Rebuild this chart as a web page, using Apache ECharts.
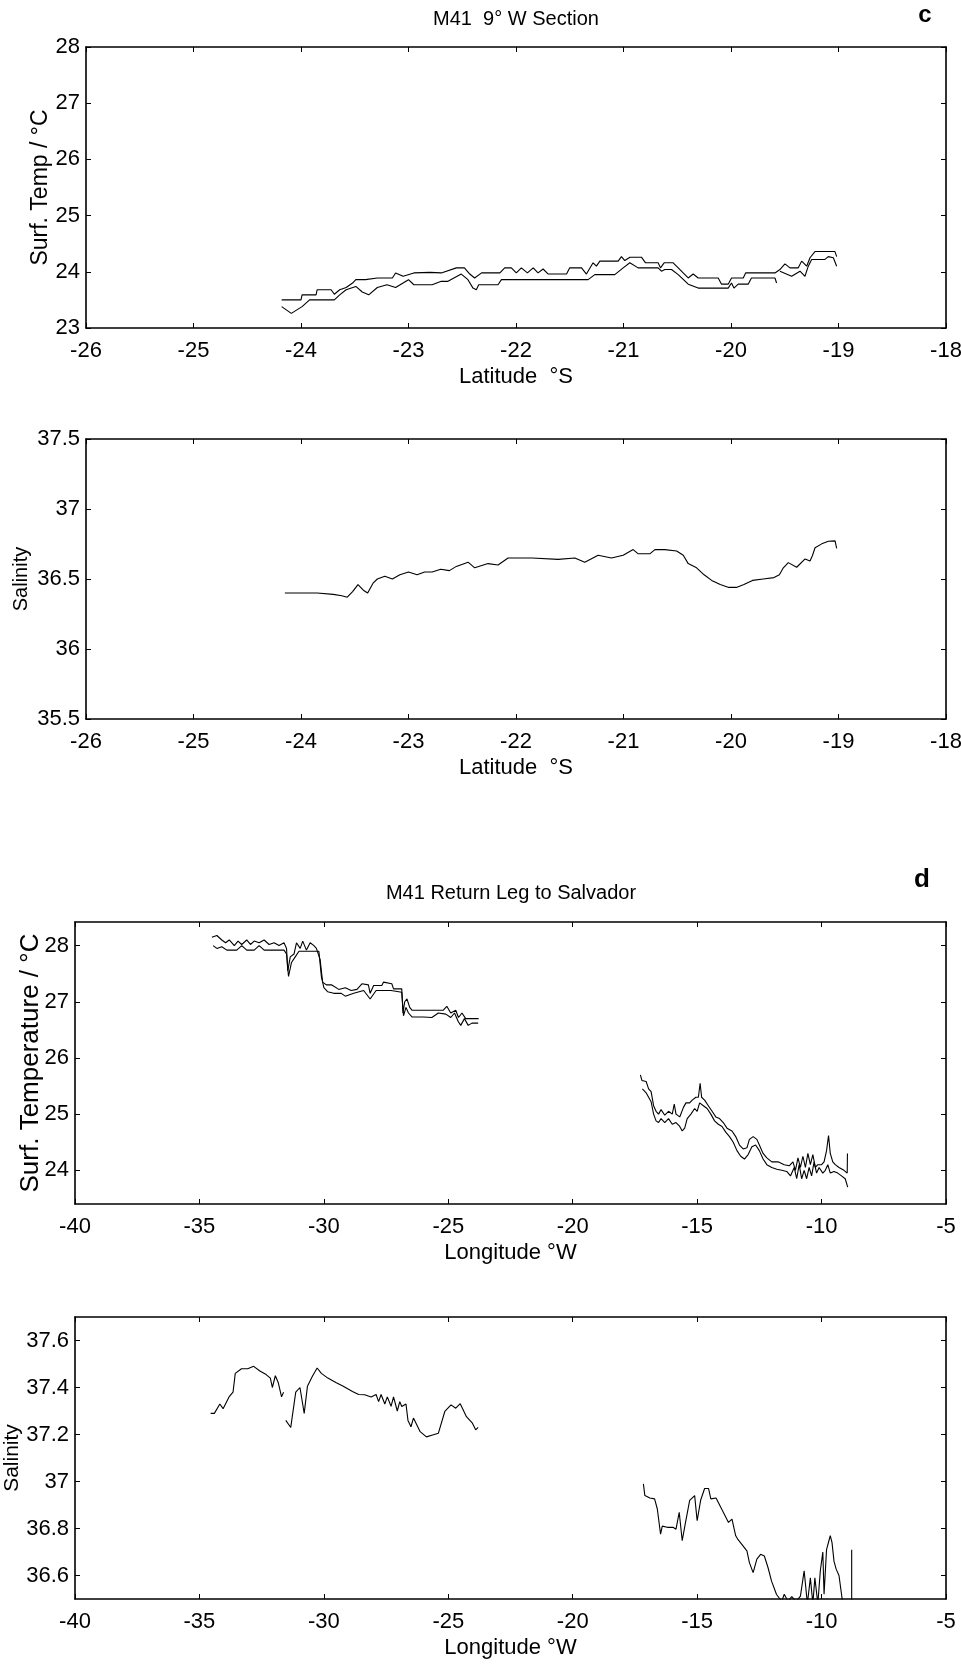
<!DOCTYPE html>
<html><head><meta charset="utf-8">
<script src="https://cdn.jsdelivr.net/npm/echarts@6/dist/echarts.min.js"></script>
<style>html,body{margin:0;padding:0;background:#fff}#chart{width:961px;height:1667px}</style>
</head><body><div id="chart"></div>
<script>
// ---------- Panel c: 9° W section (x = latitude °S) ----------
const tempC_upper = [[-24.18,23.50],[-24.00,23.50],[-23.99,23.59],[-23.86,23.59],[-23.85,23.68],[-23.72,23.68],[-23.69,23.60],[-23.64,23.68],[-23.58,23.72],[-23.52,23.80],[-23.49,23.86],[-23.40,23.86],[-23.29,23.89],[-23.15,23.89],[-23.12,23.98],[-23.05,23.92],[-22.95,23.98],[-22.80,23.99],[-22.695,23.98],[-22.555,24.07],[-22.48,24.07],[-22.43,23.96],[-22.385,23.89],[-22.32,23.98],[-22.15,23.98],[-22.105,24.07],[-22.043,24.07],[-21.997,23.98],[-21.95,24.07],[-21.894,23.98],[-21.84,24.07],[-21.795,23.98],[-21.748,24.05],[-21.70,23.96],[-21.53,23.96],[-21.50,24.07],[-21.39,24.07],[-21.345,23.96],[-21.283,24.16],[-21.252,24.10],[-21.22,24.19],[-21.05,24.19],[-21.019,24.27],[-20.988,24.20],[-20.94,24.26],[-20.833,24.26],[-20.795,24.16],[-20.678,24.16],[-20.656,24.07],[-20.622,24.16],[-20.538,24.16],[-20.491,24.07],[-20.445,23.98],[-20.398,23.89],[-20.352,23.96],[-20.305,23.89],[-20.119,23.89],[-20.088,23.78],[-20.026,23.78],[-19.995,23.89],[-19.886,23.89],[-19.864,23.98],[-19.591,23.98],[-19.545,24.04],[-19.498,24.14],[-19.452,24.07],[-19.374,24.07],[-19.343,24.19],[-19.296,24.10],[-19.265,24.25],[-19.219,24.36],[-19.033,24.36],[-19.017,24.27]];
const tempC_lower = [[-24.18,23.38],[-24.09,23.26],[-23.99,23.38],[-23.92,23.50],[-23.69,23.50],[-23.64,23.59],[-23.58,23.68],[-23.49,23.74],[-23.43,23.64],[-23.37,23.59],[-23.29,23.72],[-23.20,23.77],[-23.12,23.72],[-23.00,23.86],[-22.95,23.77],[-22.78,23.77],[-22.695,23.83],[-22.633,23.83],[-22.509,23.96],[-22.447,23.86],[-22.40,23.71],[-22.369,23.68],[-22.347,23.77],[-22.167,23.77],[-22.136,23.86],[-21.329,23.86],[-21.267,23.95],[-21.081,23.95],[-21.003,24.07],[-20.941,24.16],[-20.864,24.07],[-20.678,24.07],[-20.647,24.01],[-20.615,24.04],[-20.553,24.04],[-20.491,23.95],[-20.398,23.78],[-20.305,23.71],[-20.026,23.71],[-19.995,23.80],[-19.973,23.71],[-19.933,23.78],[-19.84,23.78],[-19.81,23.89],[-19.591,23.89],[-19.576,23.80]];
const tempC_lowerEnd = [[-19.545,24.01],[-19.436,23.92],[-19.358,24.01],[-19.312,23.92],[-19.281,24.10],[-19.25,24.22],[-19.126,24.22],[-19.095,24.27],[-19.048,24.25],[-19.017,24.10]];
const salC = [[-24.15,36.40],[-24.0,36.40],[-23.85,36.40],[-23.7,36.39],[-23.62,36.38],[-23.57,36.37],[-23.52,36.41],[-23.47,36.46],[-23.42,36.42],[-23.38,36.40],[-23.33,36.47],[-23.29,36.50],[-23.22,36.52],[-23.15,36.50],[-23.08,36.53],[-23.0,36.55],[-22.92,36.53],[-22.85,36.55],[-22.78,36.55],[-22.7,36.57],[-22.62,36.56],[-22.555,36.59],[-22.446,36.62],[-22.384,36.58],[-22.26,36.61],[-22.167,36.60],[-22.074,36.65],[-21.85,36.65],[-21.608,36.64],[-21.453,36.65],[-21.36,36.62],[-21.236,36.67],[-21.112,36.65],[-21.003,36.67],[-20.91,36.71],[-20.863,36.68],[-20.755,36.68],[-20.708,36.71],[-20.615,36.71],[-20.506,36.70],[-20.444,36.67],[-20.398,36.61],[-20.32,36.58],[-20.25,36.53],[-20.18,36.49],[-20.1,36.46],[-20.02,36.44],[-19.95,36.44],[-19.88,36.46],[-19.8,36.49],[-19.7,36.50],[-19.6,36.51],[-19.55,36.53],[-19.513,36.58],[-19.467,36.617],[-19.389,36.584],[-19.311,36.643],[-19.265,36.629],[-19.243,36.666],[-19.218,36.723],[-19.156,36.751],[-19.094,36.770],[-19.032,36.772],[-19.017,36.718]];

// ---------- Panel d: return leg to Salvador (x = longitude °W) ----------
const tempD_upperWest = [[-34.5,28.15],[-34.3,28.18],[-34.1,28.10],[-33.95,28.05],[-33.8,28.10],[-33.6,28.00],[-33.45,28.08],[-33.3,28.02],[-33.1,28.10],[-32.95,28.02],[-32.8,28.08],[-32.6,28.05],[-32.4,28.10],[-32.2,28.02],[-32.0,28.05],[-31.8,28.00],[-31.6,28.05],[-31.5,27.95],[-31.45,27.55],[-31.35,27.80],[-31.2,27.85],[-31.1,28.05],[-30.95,27.95],[-30.85,28.08],[-30.7,27.92],[-30.55,28.05],[-30.4,28.00],[-30.3,27.95],[-30.15,27.75],[-30.05,27.35],[-29.9,27.30],[-29.68,27.30],[-29.4,27.22],[-29.14,27.25],[-28.9,27.20],[-28.67,27.22],[-28.47,27.32],[-28.21,27.30],[-28.14,27.15],[-28.0,27.29],[-27.67,27.29],[-27.6,27.35],[-27.27,27.32],[-27.2,27.23],[-26.87,27.23],[-26.82,26.80],[-26.75,27.00],[-26.66,27.05],[-26.55,26.90],[-26.46,26.85],[-26.26,26.85],[-26.06,26.85],[-25.8,26.85],[-25.53,26.85],[-25.2,26.85],[-25.06,26.92],[-24.9,26.80],[-24.7,26.85],[-24.59,26.72],[-24.45,26.80],[-24.3,26.70],[-24.1,26.70],[-23.78,26.70]];
const tempD_lowerWest = [[-34.45,28.00],[-34.3,27.95],[-34.1,27.98],[-33.9,27.92],[-33.5,27.92],[-33.3,28.00],[-33.1,27.92],[-32.8,27.92],[-32.6,28.00],[-32.4,27.92],[-31.6,27.92],[-31.5,27.85],[-31.42,27.45],[-31.3,27.70],[-31.15,27.80],[-31.0,27.90],[-30.5,27.90],[-30.2,27.90],[-30.1,27.45],[-30.0,27.25],[-29.85,27.18],[-29.6,27.15],[-29.3,27.15],[-29.14,27.10],[-28.8,27.15],[-28.4,27.20],[-28.14,27.05],[-27.9,27.20],[-27.3,27.20],[-26.87,27.17],[-26.8,26.75],[-26.7,26.90],[-26.6,26.80],[-26.46,26.73],[-26.0,26.73],[-25.66,26.72],[-25.4,26.80],[-25.1,26.78],[-24.9,26.72],[-24.75,26.80],[-24.6,26.65],[-24.5,26.58],[-24.35,26.70],[-24.2,26.58],[-24.05,26.62],[-23.8,26.62]];
const tempD_upperEast = [[-17.28,25.70],[-17.22,25.60],[-17.05,25.58],[-16.95,25.45],[-16.85,25.40],[-16.75,25.15],[-16.65,25.05],[-16.55,25.00],[-16.45,25.08],[-16.3,24.98],[-16.15,25.05],[-16.0,25.00],[-15.92,25.18],[-15.85,25.00],[-15.7,24.95],[-15.55,25.12],[-15.45,25.20],[-15.3,25.20],[-15.2,25.25],[-15.05,25.30],[-14.95,25.30],[-14.88,25.55],[-14.82,25.30],[-14.7,25.25],[-14.55,25.15],[-14.4,25.05],[-14.25,24.95],[-14.1,24.92],[-13.95,24.85],[-13.8,24.75],[-13.6,24.70],[-13.45,24.60],[-13.3,24.45],[-13.15,24.38],[-13.0,24.40],[-12.9,24.55],[-12.75,24.60],[-12.6,24.55],[-12.5,24.45],[-12.35,24.30],[-12.2,24.22],[-12.0,24.15],[-11.75,24.15],[-11.5,24.10],[-11.3,24.08],[-11.15,24.15],[-11.05,24.00],[-10.95,24.22],[-10.85,24.05],[-10.75,24.25],[-10.65,24.05],[-10.55,24.30],[-10.45,24.10],[-10.35,24.28],[-10.25,24.05],[-10.15,24.10],[-10.0,24.10],[-9.9,24.15],[-9.8,24.35],[-9.72,24.62],[-9.65,24.30],[-9.55,24.15],[-9.45,24.10],[-9.3,24.05],[-9.1,24.00],[-8.97,23.95],[-8.96,24.30]];
const tempD_lowerEast = [[-17.2,25.45],[-17.05,25.38],[-16.95,25.30],[-16.85,25.22],[-16.75,25.00],[-16.65,24.88],[-16.55,24.85],[-16.45,24.92],[-16.3,24.85],[-16.15,24.92],[-16.0,24.82],[-15.85,24.85],[-15.7,24.78],[-15.6,24.70],[-15.5,24.75],[-15.4,24.92],[-15.25,25.00],[-15.1,25.10],[-15.0,25.05],[-14.9,25.20],[-14.75,25.15],[-14.6,25.10],[-14.45,25.00],[-14.3,24.88],[-14.15,24.82],[-14.0,24.78],[-13.85,24.68],[-13.7,24.60],[-13.55,24.50],[-13.4,24.35],[-13.25,24.25],[-13.1,24.20],[-12.95,24.28],[-12.8,24.42],[-12.65,24.45],[-12.5,24.35],[-12.35,24.20],[-12.2,24.10],[-12.0,24.05],[-11.8,24.02],[-11.6,24.00],[-11.4,23.98],[-11.25,23.90],[-11.1,24.05],[-11.0,23.85],[-10.9,24.10],[-10.8,23.85],[-10.7,24.00],[-10.6,23.85],[-10.5,24.05],[-10.4,23.90],[-10.3,24.15],[-10.2,23.95],[-10.1,24.05],[-9.95,23.95],[-9.85,24.00],[-9.75,24.10],[-9.65,23.95],[-9.5,23.98],[-9.35,23.95],[-9.2,23.90],[-9.05,23.85],[-8.95,23.70]];
const salD_west1 = [[-34.55,37.29],[-34.4,37.29],[-34.18,37.33],[-34.05,37.31],[-33.81,37.36],[-33.65,37.38],[-33.56,37.46],[-33.31,37.48],[-33.06,37.48],[-32.82,37.49],[-32.57,37.47],[-32.32,37.455],[-32.15,37.44],[-32.07,37.40],[-31.95,37.45],[-31.83,37.42],[-31.70,37.36],[-31.62,37.38]];
const salD_west2 = [[-31.53,37.26],[-31.33,37.23],[-31.13,37.38],[-30.96,37.40],[-30.79,37.29],[-30.66,37.405],[-30.46,37.448],[-30.27,37.483],[-30.1,37.46],[-29.84,37.44],[-29.5,37.42],[-29.22,37.405],[-28.85,37.383],[-28.6,37.37],[-28.36,37.369],[-28.1,37.36],[-27.9,37.37],[-27.8,37.34],[-27.7,37.37],[-27.55,37.33],[-27.45,37.36],[-27.3,37.32],[-27.2,37.36],[-27.05,37.30],[-26.95,37.34],[-26.87,37.319],[-26.7,37.33],[-26.62,37.26],[-26.5,37.233],[-26.4,37.27],[-26.13,37.212],[-25.88,37.19],[-25.63,37.198],[-25.4,37.205],[-25.14,37.298],[-24.89,37.326],[-24.7,37.312],[-24.52,37.331],[-24.27,37.276],[-24.03,37.248],[-23.9,37.22],[-23.8,37.23]];
const salD_east = [[-17.16,36.99],[-17.1,36.94],[-16.9,36.93],[-16.71,36.926],[-16.6,36.883],[-16.47,36.776],[-16.4,36.81],[-16.2,36.805],[-15.97,36.805],[-15.85,36.797],[-15.72,36.869],[-15.6,36.748],[-15.48,36.819],[-15.3,36.92],[-15.1,36.94],[-15.0,36.833],[-14.86,36.92],[-14.7,36.97],[-14.54,36.97],[-14.45,36.926],[-14.24,36.93],[-14.0,36.88],[-13.74,36.826],[-13.6,36.84],[-13.45,36.769],[-13.37,36.755],[-13.0,36.705],[-12.9,36.655],[-12.75,36.612],[-12.6,36.67],[-12.45,36.69],[-12.3,36.683],[-12.15,36.633],[-12.01,36.576],[-11.81,36.519],[-11.6,36.49],[-11.5,36.52],[-11.35,36.49],[-11.2,36.51],[-11.02,36.49],[-10.85,36.512],[-10.7,36.62],[-10.57,36.48],[-10.45,36.59],[-10.35,36.48],[-10.27,36.59],[-10.15,36.48],[-10.05,36.62],[-9.95,36.70],[-9.9,36.52],[-9.8,36.71],[-9.7,36.75],[-9.65,36.77],[-9.58,36.74],[-9.5,36.66],[-9.41,36.626],[-9.3,36.6],[-9.16,36.49]];
const salD_endBar = [[-8.79,36.71],[-8.79,36.45]];

// ---------- Ticks ----------
const ticksTempD = [24, 25, 26, 27, 28];
const ticksSalD = [36.6, 36.8, 37, 37.2, 37.4, 37.6];

const F = '"Liberation Sans", Arial, Helvetica, sans-serif';
const BLACK = '#000';
const txt = (size) => ({ color: BLACK, fontSize: size, fontFamily: F });

const panels = [
  { left: 86, top: 47, height: 281, x: [-26, -18, 1], y: [23, 28, 1], yTicks: null, xName: 'Latitude  °S', yName: 'Surf. Temp / °C', ySize: 23, yGap: 34 },
  { left: 86, top: 439, height: 280, x: [-26, -18, 1], y: [35.5, 37.5, 0.5], yTicks: null, xName: 'Latitude  °S', yName: 'Salinity', ySize: 20, yGap: 55 },
  { left: 75, top: 922, height: 282, x: [-40, -5, 5], y: [23.4, 28.42, null], yTicks: ticksTempD, xName: 'Longitude °W', yName: 'Surf. Temperature / °C', ySize: 26, yGap: 31 },
  { left: 75, top: 1317, height: 282, x: [-40, -5, 5], y: [36.5, 37.7, null], yTicks: ticksSalD, xName: 'Longitude °W', yName: 'Salinity', ySize: 21, yGap: 52 }
];

const grid = [], xAxis = [], yAxis = [];
const axisLine = { show: true, onZero: false, lineStyle: { color: BLACK, width: 1.6 } };
panels.forEach((p, i) => {
  grid.push({ left: p.left, top: p.top, width: 946 - p.left, height: p.height, containLabel: false, outerBoundsMode: 'none' });
  const xBase = { type: 'value', gridIndex: i, min: p.x[0], max: p.x[1], interval: p.x[2], splitLine: { show: false }, axisLine };
  xAxis.push(Object.assign({}, xBase, {
    position: 'bottom',
    axisTick: { show: true, inside: true, length: 5, lineStyle: { color: BLACK, width: 1 } },
    axisLabel: Object.assign(txt(22), { margin: 12, showMinLabel: true, showMaxLabel: true }),
    name: p.xName, nameLocation: 'middle', nameGap: 38, nameMoveOverlap: false, nameTextStyle: txt(22)
  }));
  const yBase = { type: 'value', gridIndex: i, min: p.y[0], max: p.y[1], splitLine: { show: false }, axisLine };
  if (p.y[2]) yBase.interval = p.y[2];
  const tick = { show: true, inside: true, length: 5, lineStyle: { color: BLACK, width: 1 } };
  const lab = Object.assign(txt(22), { margin: 6, showMinLabel: true, showMaxLabel: true });
  if (p.yTicks) { tick.customValues = p.yTicks; lab.customValues = p.yTicks; }
  yAxis.push(Object.assign({}, yBase, {
    position: 'left', axisTick: tick, axisLabel: lab,
    name: p.yName, nameLocation: 'middle', nameGap: p.yGap, nameRotate: 90, nameMoveOverlap: false,
    nameTextStyle: txt(p.ySize)
  }));
});
panels.forEach((p, i) => {
  xAxis.push({ type: 'value', gridIndex: i, min: p.x[0], max: p.x[1], interval: p.x[2], position: 'top',
    splitLine: { show: false }, axisLine, axisLabel: { show: false },
    axisTick: { show: true, inside: true, length: 5, lineStyle: { color: BLACK, width: 1 } } });
  const t = { show: true, inside: true, length: 5, lineStyle: { color: BLACK, width: 1 } };
  const y = { type: 'value', gridIndex: i, min: p.y[0], max: p.y[1], position: 'right',
    splitLine: { show: false }, axisLine, axisLabel: { show: false }, axisTick: t };
  if (p.y[2]) y.interval = p.y[2];
  if (p.yTicks) { t.customValues = p.yTicks; y.axisLabel.customValues = p.yTicks; }
  yAxis.push(y);
});

const line = (g, data) => ({
  type: 'line', xAxisIndex: g, yAxisIndex: g, data, showSymbol: false, symbol: 'none',
  lineStyle: { color: BLACK, width: 1.1 }, silent: true, animation: false, clip: true
});

const series = [
  line(0, tempC_upper), line(0, tempC_lower), line(0, tempC_lowerEnd),
  line(1, salC),
  line(2, tempD_upperWest), line(2, tempD_lowerWest), line(2, tempD_upperEast), line(2, tempD_lowerEast),
  line(3, salD_west1), line(3, salD_west2), line(3, salD_east), line(3, salD_endBar)
];

const gtext = (x, y, text, font) => ({
  type: 'text', x, y, silent: true,
  style: { text, font, fill: BLACK, align: 'center', verticalAlign: 'middle', textAlign: 'center', textVerticalAlign: 'middle' }
});

const chart = echarts.init(document.getElementById('chart'), null, { renderer: 'canvas' });
chart.setOption({
  backgroundColor: '#fff',
  animation: false,
  grid, xAxis, yAxis, series,
  graphic: [
    gtext(516, 19, 'M41  9° W Section', '20px ' + F),
    gtext(925, 15, 'c', 'bold 24px ' + F),
    gtext(511, 893, 'M41 Return Leg to Salvador', '20px ' + F),
    gtext(922, 880, 'd', 'bold 26px ' + F)
  ]
});
</script></body></html>
